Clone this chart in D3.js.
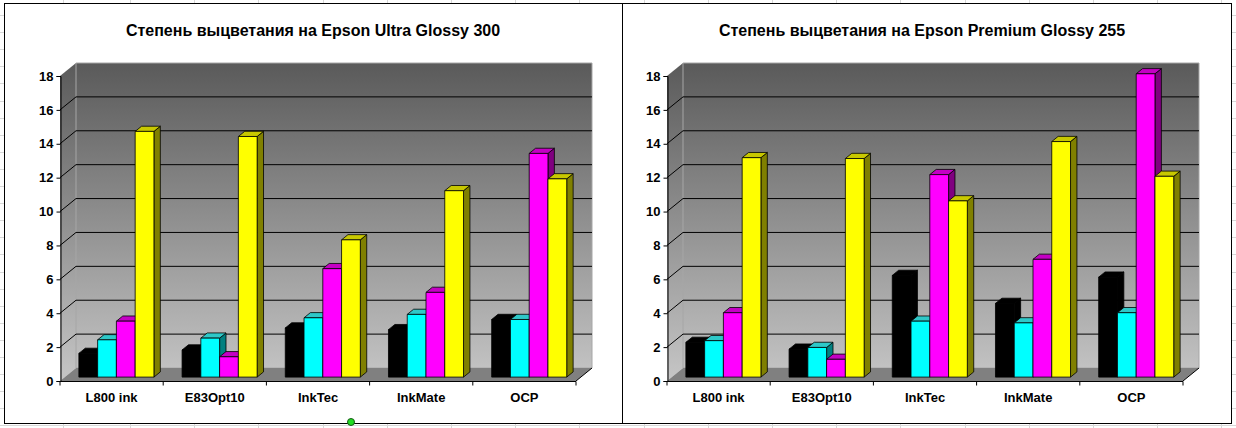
<!DOCTYPE html>
<html>
<head>
<meta charset="utf-8">
<script src="https://cdn.jsdelivr.net/npm/d3@7/dist/d3.min.js"></script>
<style>
  body { margin: 0; background: #fff; }
  svg { display: block; font-family: Arial, "Liberation Sans", sans-serif; }
</style>
</head>
<body>
<svg id="main" width="1236" height="428"></svg>
<script>
// categories and tick labels
var categories = ["L800 ink", "E83Opt10", "InkTec", "InkMate", "OCP"];
var yTicks = [0, 2, 4, 6, 8, 10, 12, 14, 16, 18];
var seriesKeys = ["black", "cyan", "magenta", "yellow"];

// Epson Ultra Glossy 300
var ultraBlack   = [1.4, 1.6, 2.9, 2.8, 3.4];
var ultraCyan    = [2.2, 2.3, 3.5, 3.7, 3.4];
var ultraMagenta = [3.3, 1.2, 6.4, 5.0, 13.2];
var ultraYellow  = [14.5, 14.2, 8.1, 11.0, 11.7];

// Epson Premium Glossy 255
var premBlack   = [2.05, 1.65, 6.0, 4.35, 5.9];
var premCyan    = [2.15, 1.75, 3.3, 3.2, 3.8];
var premMagenta = [3.8, 1.05, 11.95, 6.95, 17.9];
var premYellow  = [12.95, 12.9, 10.4, 13.9, 11.85];

var colors = {
	black:   {front: "#000000", top: "#000000", side: "#000000"},
	cyan:    {front: "#00ffff", top: "#2ec8c8", side: "#008080"},
	magenta: {front: "#ff00ff", top: "#c400c4", side: "#800080"},
	yellow:  {front: "#ffff00", top: "#c8c800", side: "#808000"}
};

var svg = d3.select("#main");

// spreadsheet grid behind the charts
var gridCols = [63].concat(d3.range(0, 18).map(function(k) { return 130 + 64.2 * k; }));
var gridRows = d3.range(0, 26).map(function(k) { return 15 + 17.1 * k; });
svg.append("g").selectAll("line").data(gridCols).enter().append("line")
	.attr("x1", function(d) { return Math.round(d) + 0.5; })
	.attr("x2", function(d) { return Math.round(d) + 0.5; })
	.attr("y1", 0).attr("y2", 428)
	.attr("stroke", "#d8d8d8");
svg.append("g").selectAll("line").data(gridRows).enter().append("line")
	.attr("y1", function(d) { return Math.round(d) + 0.5; })
	.attr("y2", function(d) { return Math.round(d) + 0.5; })
	.attr("x1", 0).attr("x2", 1236)
	.attr("stroke", "#d8d8d8");

var defs = svg.append("defs");
var grad = defs.append("linearGradient").attr("id", "wallGrad")
	.attr("gradientUnits", "userSpaceOnUse")
	.attr("x1", 0).attr("y1", 63).attr("x2", 0).attr("y2", 381);
grad.append("stop").attr("offset", "0").attr("stop-color", "#5a5a5a");
grad.append("stop").attr("offset", "1").attr("stop-color", "#c6c6c6");

var DX = 16, DY = -13;      // full depth of the 3d box
var T0 = 0.3, T1 = 0.7;     // bar depth inside the box

function drawChart(frame, axisX, titleX, title, series) {
	var g = svg.append("g");

	g.append("rect")
		.attr("x", frame[0] + 0.5).attr("y", frame[1] + 0.5)
		.attr("width", frame[2]).attr("height", frame[3])
		.attr("fill", "#fff").attr("stroke", "#000");

	g.append("text")
		.attr("x", titleX).attr("y", 36)
		.attr("text-anchor", "middle")
		.style("font-size", "16px").style("font-weight", "bold")
		.text(title);

	var x = d3.scaleBand().domain(categories).range([axisX, axisX + 516]);
	var y = d3.scaleLinear().domain([0, 18]).range([381, 76]);
	var x0 = x.range()[0], x1 = x.range()[1];

	function pts(a) {
		return a.map(function(p) { return p.join(","); }).join(" ");
	}

	// side wall
	g.append("polygon")
		.attr("points", pts([[x0, y(0)], [x0, y(18)], [x0 + DX, y(18) + DY], [x0 + DX, y(0) + DY]]))
		.attr("fill", "url(#wallGrad)");
	// back wall
	g.append("polygon")
		.attr("points", pts([[x0 + DX, y(0) + DY], [x0 + DX, y(18) + DY], [x1 + DX, y(18) + DY], [x1 + DX, y(0) + DY]]))
		.attr("fill", "url(#wallGrad)").attr("stroke", "#a6a6a6");
	// floor
	g.append("polygon")
		.attr("points", pts([[x0, y(0)], [x1, y(0)], [x1 + DX, y(0) + DY], [x0 + DX, y(0) + DY]]))
		.attr("fill", "#808080");
	g.append("line")
		.attr("x1", x1).attr("y1", y(0)).attr("x2", x1 + DX).attr("y2", y(0) + DY)
		.attr("stroke", "#000");

	// gridlines
	var grid = yTicks.filter(function(v) { return v > 0 && v < 18; });
	g.append("g").selectAll("path").data(grid).enter().append("path")
		.attr("d", function(v) {
			return "M" + x0 + "," + y(v) + "L" + (x0 + DX) + "," + (y(v) + DY) + "L" + (x1 + DX) + "," + (y(v) + DY);
		})
		.attr("fill", "none").attr("stroke", "#000");

	// axes
	var yAxis = d3.axisLeft(y).tickValues(yTicks).tickSize(4).tickPadding(3);
	var ya = g.append("g").attr("transform", "translate(" + (x0 + 0.5) + ",0)").call(yAxis);
	ya.select(".domain").attr("stroke", "#000");
	ya.selectAll("text").style("font-size", "13px").style("font-weight", "bold").attr("fill", "#000");

	var xa = g.append("g").attr("transform", "translate(0," + (y(0) + 0.5) + ")");
	xa.append("line").attr("x1", x0).attr("x2", x1).attr("stroke", "#000");
	xa.selectAll(".tk").data(categories.concat(["end"])).enter().append("line")
		.attr("class", "tk")
		.attr("x1", function(d, i) { return x0 + i * x.bandwidth(); })
		.attr("x2", function(d, i) { return x0 + i * x.bandwidth(); })
		.attr("y1", 0).attr("y2", 4).attr("stroke", "#000");
	xa.selectAll("text").data(categories).enter().append("text")
		.attr("x", function(d) { return x(d) + x.bandwidth() / 2; })
		.attr("y", 20)
		.attr("text-anchor", "middle")
		.style("font-size", "13px").style("font-weight", "bold")
		.text(function(d) { return d; });

	// bars
	var inner = d3.scaleBand().domain(seriesKeys).range([0, x.bandwidth()]).paddingInner(0).paddingOuter(0.75);
	var bw = inner.bandwidth();
	var ox = DX * T0, oy = DY * T0;
	var dx = DX * (T1 - T0), dy = DY * (T1 - T0);
	var bars = [];
	categories.forEach(function(c, ci) {
		seriesKeys.forEach(function(k) {
			bars.push({cat: c, key: k, value: series[k][ci]});
		});
	});
	var bg = g.append("g").attr("stroke", "#000").attr("stroke-width", 0.8).attr("stroke-linejoin", "round");
	bars.forEach(function(b) {
		var bx = x(b.cat) + inner(b.key) + ox;
		var yt = y(b.value) + oy, yb = y(0) + oy;
		var col = colors[b.key];
		bg.append("polygon")
			.attr("points", pts([[bx + bw, yt], [bx + bw + dx, yt + dy], [bx + bw + dx, yb + dy], [bx + bw, yb]]))
			.attr("fill", col.side);
		bg.append("polygon")
			.attr("points", pts([[bx, yt], [bx + bw, yt], [bx + bw + dx, yt + dy], [bx + dx, yt + dy]]))
			.attr("fill", col.top);
		bg.append("rect")
			.attr("x", bx).attr("y", yt).attr("width", bw).attr("height", yb - yt)
			.attr("fill", col.front);
	});
}

drawChart([4, 3, 618, 420], 60, 313, "Степень выцветания на Epson Ultra Glossy 300",
	{black: ultraBlack, cyan: ultraCyan, magenta: ultraMagenta, yellow: ultraYellow});
drawChart([622, 3, 609, 420], 667, 922, "Степень выцветания на Epson Premium Glossy 255",
	{black: premBlack, cyan: premCyan, magenta: premMagenta, yellow: premYellow});

// selection handle of the left chart
svg.append("circle").attr("cx", 351).attr("cy", 422).attr("r", 3.5)
	.attr("fill", "#22dd22").attr("stroke", "#1a5a1a");
</script>
</body>
</html>
